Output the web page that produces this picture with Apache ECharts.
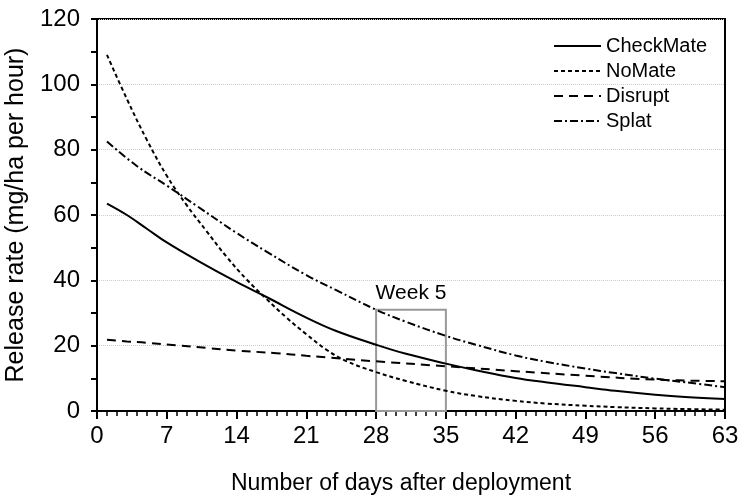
<!DOCTYPE html>
<html>
<head>
<meta charset="utf-8">
<script src="https://cdn.jsdelivr.net/npm/echarts@6/dist/echarts.min.js"></script>
<style>html,body{margin:0;padding:0;background:#fff}#c{width:746px;height:503px}</style>
</head>
<body>
<div id="c"></div>
<script>
const seriesNames = ['CheckMate', 'NoMate', 'Disrupt', 'Splat'];
const checkMate = [[1,63.5],[3,60],[5,55.8],[7,51.6],[10,46.2],[14,39.5],[17,34.9],[21,28.6],[24,24.5],[28,20.3],[31,17.5],[35,14.5],[38,12.5],[42,10.1],[45,8.8],[49,7.3],[52,6.2],[56,5],[59,4.3],[63,3.7]];
const noMate = [[1,109],[3,95.5],[5,83],[7,72],[9,63],[11,55],[13,47.2],[15,40.3],[17,34.3],[19,28.6],[21,23.5],[23,18.8],[25,15.3],[28,11.9],[31,9.2],[35,6.2],[38,4.6],[42,3.1],[45,2.3],[49,1.6],[52,1.2],[56,0.8],[59,0.6],[63,0.4]];
const disrupt = [[1,21.8],[3,21.3],[5,20.9],[8,20.1],[11,19.3],[14,18.5],[18,17.7],[21,16.9],[28,15.2],[35,13.7],[42,12.2],[49,10.8],[56,9.6],[63,9.1]];
const splat = [[1,82.5],[4,75],[7,69],[10,62.8],[14,54.5],[17,48.8],[21,41.6],[24,37],[28,31],[31,27.3],[35,23],[38,20.3],[42,17],[45,15.1],[49,13],[52,11.6],[56,9.9],[59,8.8],[63,7.3]];
const week5Box = [28, 35, 0, 31]; // xStart, xEnd, yStart, yEnd
const week5Label = 'Week 5';

const FONT = 'Liberation Sans, Arial, sans-serif';
const chart = echarts.init(document.getElementById('c'), null, {renderer: 'canvas'});
function ser(name, data, type, extra) {
  return Object.assign({
    name: name, type: 'line', data: data, smooth: 0.4, symbol: 'none',
    lineStyle: {color: '#000', width: 2, type: type}, itemStyle: {color: '#000'},
    z: 3
  }, extra || {});
}
chart.setOption({
  animation: false,
  grid: {left: 97, right: 21, top: 19, bottom: 92, containLabel: false, outerBoundsMode: 'none', show: true, borderColor: '#000', borderWidth: 2, backgroundColor: 'transparent'},
  legend: {
    orient: 'vertical', left: 553, top: 36, padding: 0, itemWidth: 47, itemHeight: 14, itemGap: 5,
    itemStyle: {opacity: 0, borderWidth: 0},
    textStyle: {fontFamily: FONT, fontSize: 20, lineHeight: 20, color: '#000'},
    data: seriesNames
  },
  xAxis: {
    type: 'value', min: 0, max: 63, interval: 7,
    name: 'Number of days after deployment', nameLocation: 'middle', nameGap: 61,
    nameTextStyle: {fontFamily: FONT, fontSize: 23, color: '#000', padding: [0, 20, 0, 0]},
    axisLine: {show: true, lineStyle: {color: '#000', width: 2}},
    axisTick: {show: true, length: 8, lineStyle: {color: '#000', width: 2}},
    minorTick: {show: true, splitNumber: 7, length: 5, lineStyle: {color: '#000', width: 1.5}},
    axisLabel: {fontFamily: FONT, fontSize: 24, color: '#000', margin: 13},
    splitLine: {show: false}
  },
  yAxis: {
    type: 'value', min: 0, max: 120, interval: 20,
    name: 'Release rate (mg/ha per hour)', nameLocation: 'middle', nameGap: 68,
    nameTextStyle: {fontFamily: FONT, fontSize: 25, color: '#000'},
    axisLine: {show: true, lineStyle: {color: '#000', width: 2}},
    axisTick: {show: true, length: 6, lineStyle: {color: '#000', width: 2}},
    minorTick: {show: true, splitNumber: 2, length: 6, lineStyle: {color: '#000', width: 2}},
    axisLabel: {fontFamily: FONT, fontSize: 24, color: '#000', margin: 17},
    splitLine: {show: true, lineStyle: {color: '#ccc', type: 'dotted', width: 1}}
  },
  series: [
    ser(seriesNames[0], checkMate, 'solid', {
      markArea: {
        silent: true,
        itemStyle: {color: 'rgba(0,0,0,0)', borderColor: '#999', borderWidth: 2},
        label: {show: true, position: 'top', distance: 5, formatter: week5Label, fontFamily: FONT, fontSize: 21, color: '#000'},
        data: [[{xAxis: week5Box[0], yAxis: week5Box[2]}, {xAxis: week5Box[1], yAxis: week5Box[3]}]]
      }
    }),
    ser(seriesNames[1], noMate, [4, 3]),
    ser(seriesNames[2], disrupt, [9, 6]),
    ser(seriesNames[3], splat, [8, 3, 2, 3])
  ]
});
</script>
</body>
</html>
